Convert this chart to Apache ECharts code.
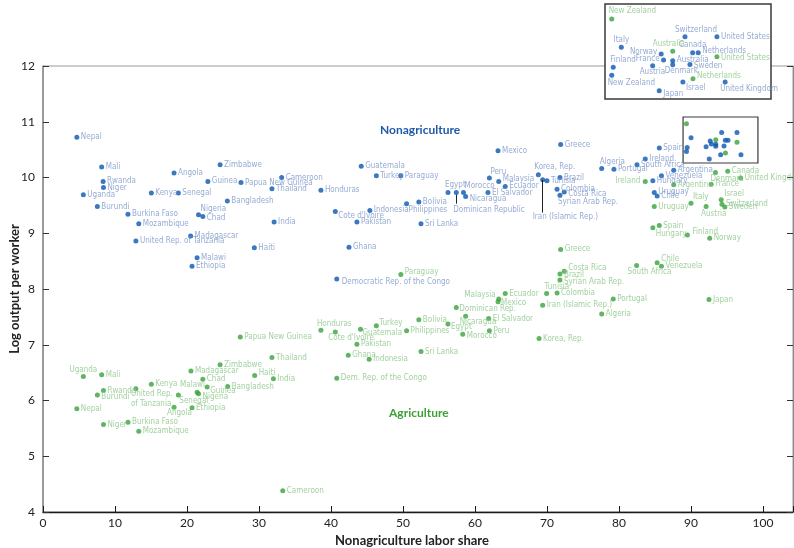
<!DOCTYPE html>
<html>
<head>
<meta charset="utf-8">
<script src="https://cdn.jsdelivr.net/npm/echarts@6/dist/echarts.min.js"></script>
<style>
  html, body { margin: 0; padding: 0; background: #fff; }
  #chart { width: 794px; height: 548px; }
</style>
</head>
<body>
<div id="chart"></div>
<script>
// Log output per worker against the nonagriculture labor share, by country.

// Nonagriculture sector
const nonagNames = [
  'Nepal', 'Mali', 'Rwanda', 'Niger', 'Uganda', 'Burundi', 'Burkina Faso', 'Mozambique',
  'United Rep. of Tanzania', 'Kenya', 'Senegal', 'Angola', 'Guinea', 'Zimbabwe', 'Bangladesh',
  'Nigeria', 'Chad', 'Madagascar', 'Malawi', 'Ethiopia', 'Papua New Guinea', 'Cameroon',
  'Thailand', 'Honduras', 'Guatemala', 'Turkey', 'Paraguay', "Cote d'Ivoire", 'Indonesia',
  'India', 'Pakistan', 'Bolivia', 'Philippines', 'Sri Lanka', 'Haiti', 'Ghana',
  'Democratic Rep. of the Congo', 'Mexico', 'Greece', 'Peru', 'Malaysia', 'Ecuador',
  'El Salvador', 'Egypt', 'Dominican Republic', 'Morocco', 'Nicaragua', 'Korea, Rep.',
  'Iran (Islamic Rep.)', 'Tunisia', 'Brazil', 'Colombia', 'Costa Rica', 'Syrian Arab Rep.',
  'Algeria', 'Portugal', 'Spain', 'Ireland', 'South Africa', 'Argentina', 'Venezuela',
  'Hungary', 'Uruguay', 'Chile',
  'New Zealand', 'Italy', 'Finland', 'Switzerland', 'United States', 'Canada', 'Netherlands',
  'Norway', 'France', 'Australia', 'Denmark', 'Sweden', 'Austria', 'Israel',
  'United Kingdom', 'Japan'
];
const nonagShare = [
  4.7, 8.15, 8.35, 8.4, 5.6, 7.55, 11.8, 13.3,
  12.9, 15.05, 18.8, 18.2, 22.9, 24.6, 25.6,
  21.6, 22.2, 20.5, 21.4, 20.7, 27.5, 33.15,
  31.8, 38.6, 44.2, 46.3, 49.7, 40.6, 45.4,
  32.1, 43.6, 52.2, 50.5, 52.5, 29.35, 42.5,
  40.8, 63.2, 71.9, 62.0, 63.3, 64.2,
  61.8, 56.25, 57.4, 58.4, 58.7, 68.8,
  69.4, 70.0, 71.8, 71.4, 72.4, 71.8,
  77.6, 79.3, 85.6, 83.65, 82.5, 87.6, 85.9,
  84.7, 84.9, 85.3,
  89.37, 90.01, 89.47, 94.26, 96.39, 94.77, 95.14,
  92.67, 92.83, 93.44, 93.44, 94.59, 92.10, 94.12,
  96.94, 92.54
];
const nonagOutput = [
  10.72, 10.19, 9.93, 9.82, 9.69, 9.48, 9.34, 9.17,
  8.86, 9.72, 9.72, 10.08, 9.93, 10.23, 9.58,
  9.33, 9.30, 8.95, 8.56, 8.41, 9.91, 10.0,
  9.80, 9.77, 10.20, 10.03, 10.03, 9.39, 9.41,
  9.20, 9.20, 9.56, 9.53, 9.17, 8.74, 8.75,
  8.18, 10.48, 10.59, 9.99, 9.93, 9.84,
  9.73, 9.73, 9.73, 9.73, 9.66, 10.05,
  9.96, 9.94, 10.0, 9.79, 9.74, 9.68,
  10.16, 10.15, 10.53, 10.33, 10.23, 10.13, 10.03,
  9.94, 9.73, 9.67,
  10.468, 10.714, 10.538, 10.807, 10.807, 10.666, 10.666,
  10.655, 10.602, 10.596, 10.561, 10.564, 10.552, 10.409,
  10.409, 10.332
];

// Agriculture sector
const agNames = [
  'Uganda', 'Mali', 'Rwanda', 'Burundi', 'Nepal', 'Niger', 'Burkina Faso', 'Mozambique',
  'United Rep. of Tanzania', 'Kenya', 'Senegal', 'Angola', 'Ethiopia', 'Malawi', 'Nigeria',
  'Madagascar', 'Chad', 'Guinea', 'Zimbabwe', 'Bangladesh', 'Haiti', 'India', 'Thailand',
  'Papua New Guinea', 'Cameroon', 'Dem. Rep. of the Congo', 'Honduras', "Cote d'Ivoire",
  'Guatemala', 'Turkey', 'Pakistan', 'Ghana', 'Indonesia', 'Sri Lanka', 'Paraguay',
  'Bolivia', 'Philippines', 'Egypt', 'Dominican Rep.', 'Nicaragua', 'Morocco', 'El Salvador',
  'Peru', 'Mexico', 'Malaysia', 'Ecuador', 'Korea, Rep.', 'Iran (Islamic Rep.)', 'Tunisia',
  'Colombia', 'Greece', 'Costa Rica', 'Brazil', 'Syrian Arab Rep.', 'Algeria', 'Portugal',
  'South Africa', 'Chile', 'Venezuela', 'Japan', 'Ireland', 'Hungary', 'Spain', 'Uruguay',
  'Argentina', 'Finland', 'Norway', 'Italy', 'Austria', 'France', 'Denmark', 'Canada',
  'United Kingdom', 'Israel', 'Switzerland', 'Sweden',
  'New Zealand', 'Australia', 'United States', 'Netherlands'
];
const agShare = [
  5.6, 8.15, 8.4, 7.55, 4.7, 8.4, 11.8, 13.3,
  12.9, 15.05, 18.8, 18.2, 20.7, 21.4, 21.6,
  20.55, 22.2, 22.8, 24.6, 25.65, 29.4, 32.0, 31.8,
  27.4, 33.3, 40.8, 38.6, 40.6,
  44.1, 46.3, 43.6, 42.4, 45.3, 52.5, 49.7,
  52.2, 50.5, 56.25, 57.4, 58.7, 58.3, 61.9,
  62.0, 63.2, 63.3, 64.2, 68.9, 69.4, 69.95,
  71.4, 71.9, 72.4, 71.8, 71.8, 77.6, 79.2,
  82.45, 85.3, 85.9, 92.5, 83.65, 84.7, 85.6, 84.9,
  87.6, 89.5, 92.6, 90.0, 92.1, 92.8, 93.4, 95.1,
  96.9, 94.2, 94.3, 94.7,
  89.37, 93.44, 96.39, 94.79
];
const agOutput = [
  6.43, 6.46, 6.18, 6.10, 5.85, 5.57, 5.61, 5.45,
  6.21, 6.29, 6.10, 5.88, 5.87, 6.15, 6.12,
  6.53, 6.38, 6.24, 6.64, 6.25, 6.45, 6.39, 6.77,
  7.14, 4.38, 6.40, 7.26, 7.23,
  7.28, 7.34, 7.01, 6.81, 6.74, 6.88, 8.26,
  7.45, 7.25, 7.37, 7.67, 7.51, 7.19, 7.47,
  7.25, 7.77, 7.82, 7.92, 7.11, 7.71, 7.92,
  7.93, 8.71, 8.32, 8.27, 8.16, 7.55, 7.82,
  8.42, 8.47, 8.41, 7.81, 9.93, 9.10, 9.14, 9.48,
  9.87, 8.97, 8.91, 9.54, 9.48, 9.88, 10.09, 10.11,
  9.99, 9.60, 9.52, 9.47,
  10.963, 10.679, 10.631, 10.438
];

// Axis ticks
const xTicks = [0, 10, 20, 30, 40, 50, 60, 70, 80, 90, 100];
const yTicks = [4, 5, 6, 7, 8, 9, 10, 11, 12];

// Region of the main plot that is enlarged in the corner panel
const zoomShare = [88.9, 99.3];
const zoomOutput = [10.26, 11.085];
const panelShare = [88.92, 100];
const panelOutput = [10.26, 11.095];

// ---- styling ----
const BLUE_DOT = '#0a56b0', BLUE_TXT = '#7b96c8';
const GREEN_DOT = '#37a23b', GREEN_TXT = '#8bc588';
const AXIS_FONT = 'Lato, "Open Sans", sans-serif';

// Country labels want a condensed face; use the first one installed and size it
// so a typical label keeps its compact width.
function pickLabelFont() {
  const ctx = document.createElement('canvas').getContext('2d');
  const probe = 'Papua New Guinea mmwwii';
  const width = f => { ctx.font = f; return ctx.measureText(probe).width; };
  const has = name => ['monospace', 'serif'].some(base =>
    width('20px ' + base) !== width('20px "' + name + '", ' + base));
  const candidates = ['Liberation Sans Narrow', 'Arial Narrow', 'DejaVu Sans Condensed',
    'Noto Sans Condensed', 'Roboto Condensed', 'Open Sans Condensed', 'Roboto', 'Liberation Sans'];
  const family = candidates.find(has) || 'sans-serif';
  ctx.font = '10px "' + family + '"';
  const w10 = ctx.measureText('Papua New Guinea').width;
  const size = Math.max(8, Math.min(9.5, 10 * 53 / w10));
  return { family: '"' + family + '", sans-serif', size: Math.round(size * 2) / 2 };
}
const LABEL = pickLabelFont();

// label offsets [dx, dy, align] relative to the dot; default is to the right
const R = [4, 0, 'left'];
const nonagSpots = {
  'Nigeria': [2, -6, 'left'], 'Chad': [4, 1, 'left'], "Cote d'Ivoire": [3, 4, 'left'],
  'Philippines': [2, 6, 'left'], 'Democratic Rep. of the Congo': [5, 3, 'left'],
  'Peru': [1, -6, 'left'], 'Malaysia': [4, -2, 'left'], 'Egypt': [-3, -8, 'left'],
  'Dominican Republic': [-3, 17, 'left'], 'Morocco': [1, -7, 'left'], 'Nicaragua': [4, 2, 'left'],
  'Korea, Rep.': [-4, -8, 'left'], 'Iran (Islamic Rep.)': [-10, 37, 'left'],
  'Costa Rica': [4, 2, 'left'], 'Syrian Arab Rep.': [-2, 7, 'left'], 'Algeria': [-2, -7, 'left'],
  'Uruguay': [4, -1, 'left']
};
const agSpots = {
  'Uganda': [0, -7, 'center'], 'Burundi': [4, 2, 'left'], 'Senegal': [1, 6, 'left'],
  'Angola': [-7, 6, 'left'], 'Malawi': [-17, -7, 'left'], 'Nigeria': [4, 3, 'left'],
  'Guinea': [3, 4, 'left'], 'Haiti': [4, -2, 'left'], 'United Rep. of Tanzania': [-5, 10, 'left'],
  'Honduras': [-4, -6, 'left'], "Cote d'Ivoire": [-7, 6, 'left'], 'Guatemala': [2, 4, 'left'],
  'Turkey': [3, -3, 'left'], 'Paraguay': [4, -3, 'left'], 'Egypt': [3, 3, 'left'],
  'Dominican Rep.': [3, 2, 'left'], 'Nicaragua': [-6, 6, 'left'], 'Morocco': [4, 2, 'left'],
  'Mexico': [3, 1, 'left'], 'Malaysia': [-3, -4, 'right'], 'Tunisia': [-2, -7, 'left'],
  'Costa Rica': [4, -3, 'left'], 'Brazil': [4, 1, 'left'], 'Syrian Arab Rep.': [4, 2, 'left'],
  'South Africa': [-9, 6, 'left'], 'Chile': [4, -4, 'left'], 'Ireland': [-5, 0, 'right'],
  'Hungary': [3, 6, 'left'], 'Finland': [5, -3, 'left'], 'Italy': [2, -6, 'left'],
  'Austria': [-5, 7, 'left'], 'Denmark': [-5, 6, 'left'], 'Israel': [3, -6, 'left']
};
const agText = { 'United Rep. of Tanzania': 'United Rep.\nof Tanzania' };
const panelNonagSpots = {
  'New Zealand': [-4, 8, 'left'], 'Italy': [0, -7, 'center'], 'Finland': [-3, -7, 'left'],
  'Switzerland': [-10, -7, 'left'], 'Canada': [0, -8, 'center'], 'Netherlands': [4, -2, 'left'],
  'Norway': [-4, -2, 'right'], 'France': [-4, -1, 'right'], 'Australia': [4, -1, 'left'],
  'Denmark': [-8, 6, 'left'], 'Sweden': [4, 2, 'left'], 'Austria': [-13, 6, 'left'],
  'Israel': [3, 6, 'left'], 'United Kingdom': [-5, 7, 'left'], 'Japan': [4, 3, 'left']
};
const panelAgSpots = {
  'New Zealand': [-3, -8, 'left'], 'Australia': [-20, -7, 'left'],
  'United States': [4, 1, 'left'], 'Netherlands': [4, -3, 'left']
};
// leader lines below a dot, in output units
const leaders = { 'Dominican Republic': [0.04, 0.2], 'Iran (Islamic Rep.)': [0.0, 0.59] };

function inZoom(x, y) {
  return x >= zoomShare[0] && x <= zoomShare[1] && y >= zoomOutput[0] && y <= zoomOutput[1];
}

function buildItems(names, xs, ys, spots, texts, showLabel) {
  return names.map((n, i) => {
    const s = spots[n] || R;
    return {
      name: n,
      value: [xs[i], ys[i]],
      label: {
        show: showLabel(xs[i], ys[i]),
        offset: [s[0], s[1]],
        align: s[2],
        formatter: (texts && texts[n]) || n
      }
    };
  });
}

function panelItems(names, xs, ys, spots) {
  const out = [];
  names.forEach((n, i) => {
    if (!inZoom(xs[i], ys[i])) return;
    const s = spots[n] || R;
    out.push({
      name: n,
      value: [xs[i], ys[i]],
      label: { show: true, offset: [s[0], s[1]], align: s[2], formatter: n }
    });
  });
  return out;
}

function labelStyle(color) {
  return {
    position: 'inside',
    verticalAlign: 'middle',
    color: color,
    fontSize: LABEL.size,
    lineHeight: 10,
    fontFamily: LABEL.family
  };
}

const nonagItems = buildItems(nonagNames, nonagShare, nonagOutput, nonagSpots, null,
  (x, y) => !inZoom(x, y));
const agItems = buildItems(agNames, agShare, agOutput, agSpots, agText,
  (x, y) => !inZoom(x, y));

const leaderLines = Object.keys(leaders).map(n => {
  const i = nonagNames.indexOf(n);
  const x = nonagShare[i], y = nonagOutput[i];
  return [{ coord: [x, y - leaders[n][0]] }, { coord: [x, y - leaders[n][1]] }];
});

const chart = echarts.init(document.getElementById('chart'), null, { renderer: 'canvas' });

chart.setOption({
  animation: false,
  backgroundColor: '#fff',
  title: [
    { text: 'Nonagriculture', left: 375, top: 119,
      textStyle: { color: '#1f5aa8', fontSize: 12, fontWeight: 'bold', fontFamily: AXIS_FONT } },
    { text: 'Agriculture', left: 384, top: 402,
      textStyle: { color: '#3f9f37', fontSize: 12, fontWeight: 'bold', fontFamily: AXIS_FONT } }
  ],
  grid: [
    { left: 43, top: 66, width: 750, height: 446, show: true, outerBoundsMode: 'none',
      containLabel: false,
      borderColor: '#9a9a9a', borderWidth: 1, backgroundColor: 'transparent' },
    { left: 605, top: 4, width: 166, height: 95, show: true, z: 10, outerBoundsMode: 'none',
      containLabel: false,
      borderColor: '#3a3a3a', borderWidth: 1.5, backgroundColor: '#fff' }
  ],
  xAxis: [
    {
      gridIndex: 0, type: 'value', min: xTicks[0], max: 104.17, interval: 10,
      axisLine: { show: true, lineStyle: { color: '#1a1a1a', width: 1.3 } },
      axisTick: { show: true, inside: true, length: 6, lineStyle: { color: '#1a1a1a' } },
      axisLabel: {
        color: '#222', fontSize: 12, margin: 5, fontFamily: AXIS_FONT,
        formatter: v => (xTicks.indexOf(v) >= 0 ? String(v) : '')
      },
      splitLine: { show: false },
      name: 'Nonagriculture labor share', nameLocation: 'middle', nameGap: 21,
      nameTextStyle: { color: '#222', fontSize: 13, fontWeight: 'bold', fontFamily: AXIS_FONT,
        padding: [0, 12, 0, 0] }
    },
    { gridIndex: 1, type: 'value', min: panelShare[0], max: panelShare[1], show: false,
      splitLine: { show: false } }
  ],
  yAxis: [
    {
      gridIndex: 0, type: 'value', min: yTicks[0], max: yTicks[yTicks.length - 1], interval: 1,
      axisLine: { show: true, lineStyle: { color: '#8a8a8a', width: 1.5 } },
      axisTick: { show: true, inside: true, length: 6, lineStyle: { color: '#333' } },
      axisLabel: { color: '#222', fontSize: 12, margin: 8, fontFamily: AXIS_FONT },
      splitLine: { show: false },
      name: 'Log output per worker', nameLocation: 'middle', nameGap: 22, nameRotate: 90,
      nameMoveOverlap: false,
      nameTextStyle: { color: '#222', fontSize: 13, fontWeight: 'bold', fontFamily: AXIS_FONT }
    },
    {
      gridIndex: 0, type: 'value', position: 'right', min: yTicks[0],
      max: yTicks[yTicks.length - 1], interval: 1,
      axisLine: { show: true, lineStyle: { color: '#8a8a8a' } },
      axisTick: { show: true, inside: true, length: 6, lineStyle: { color: '#333' } },
      axisLabel: { show: false }, splitLine: { show: false }
    },
    { gridIndex: 1, type: 'value', min: panelOutput[0], max: panelOutput[1], show: false,
      splitLine: { show: false } }
  ],
  series: [
    {
      name: 'Nonagriculture', type: 'scatter', xAxisIndex: 0, yAxisIndex: 0,
      symbolSize: 5, itemStyle: { color: BLUE_DOT },
      label: labelStyle(BLUE_TXT),
      data: nonagItems,
      markLine: {
        silent: true, symbol: 'none', label: { show: false },
        lineStyle: { color: '#222', width: 1, type: 'solid' },
        data: leaderLines
      },
      markArea: {
        silent: true,
        itemStyle: { color: 'rgba(0,0,0,0)', borderColor: '#3a3a3a', borderWidth: 1.2 },
        data: [[{ coord: [zoomShare[0], zoomOutput[1]] }, { coord: [zoomShare[1], zoomOutput[0]] }]]
      }
    },
    {
      name: 'Agriculture', type: 'scatter', xAxisIndex: 0, yAxisIndex: 0,
      symbolSize: 5, itemStyle: { color: GREEN_DOT },
      label: labelStyle(GREEN_TXT),
      data: agItems
    },
    {
      name: 'Nonagriculture (detail)', type: 'scatter', xAxisIndex: 1, yAxisIndex: 2, z: 12,
      symbolSize: 5, itemStyle: { color: BLUE_DOT },
      label: labelStyle(BLUE_TXT),
      data: panelItems(nonagNames, nonagShare, nonagOutput, panelNonagSpots)
    },
    {
      name: 'Agriculture (detail)', type: 'scatter', xAxisIndex: 1, yAxisIndex: 2, z: 12,
      symbolSize: 5, itemStyle: { color: GREEN_DOT },
      label: labelStyle(GREEN_TXT),
      data: panelItems(agNames, agShare, agOutput, panelAgSpots)
    }
  ]
});
</script>
</body>
</html>
